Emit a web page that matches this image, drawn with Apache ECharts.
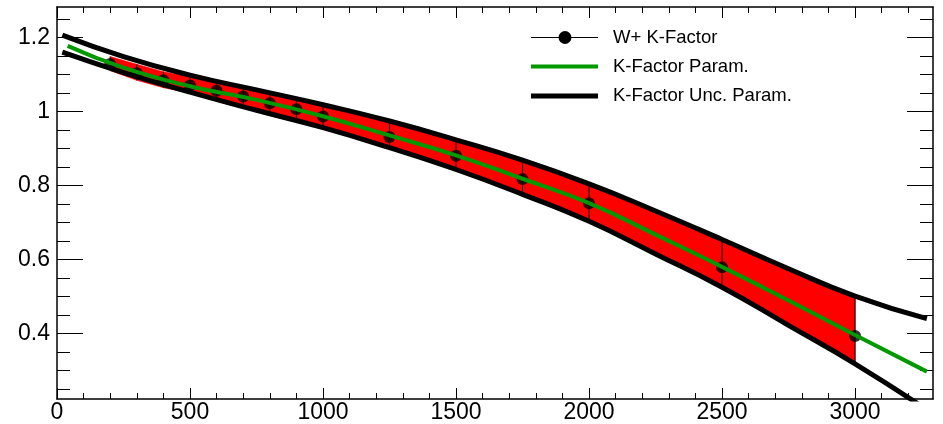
<!DOCTYPE html>
<html>
<head>
<meta charset="utf-8">
<script src="https://cdn.jsdelivr.net/npm/echarts@6/dist/echarts.min.js"></script>
<style>
html, body { margin: 0; padding: 0; background: #fff; }
#chart { width: 943px; height: 424px; }
</style>
</head>
<body>
<div id="chart"></div>
<script>
// W+ K-factor measurements with asymmetric uncertainties
const kMass = [200, 300, 400, 500, 600, 700, 800, 900, 1000, 1250, 1500, 1750, 2000, 2500, 3000];
const kFactor = [1.128, 1.103, 1.084, 1.070, 1.056, 1.040, 1.022, 1.006, 0.986, 0.931, 0.880, 0.817, 0.752, 0.579, 0.393];
const kErrUp = [0.020, 0.024, 0.023, 0.024, 0.025, 0.026, 0.027, 0.026, 0.030, 0.042, 0.042, 0.050, 0.052, 0.075, 0.107];
const kErrDown = [0.018, 0.019, 0.020, 0.020, 0.022, 0.024, 0.025, 0.027, 0.029, 0.030, 0.038, 0.042, 0.049, 0.053, 0.073];

// K-factor parametrisation, sampled along the mass axis
const paramMass = [40, 250, 500, 750, 1000, 1250, 1500, 1750, 2000, 2250, 2500, 2750, 3000, 3270];
const paramValue = [1.177, 1.118, 1.068, 1.031, 0.987, 0.935, 0.881, 0.818, 0.752, 0.667, 0.580, 0.489, 0.396, 0.297];

// Upper and lower edges of the parametrised uncertainty
const uncMass = [20, 250, 500, 750, 1000, 1250, 1500, 1750, 2000, 2250, 2500, 2750, 3000, 3270];
const uncUpper = [1.206, 1.148, 1.098, 1.058, 1.018, 0.974, 0.923, 0.868, 0.804, 0.731, 0.654, 0.575, 0.501, 0.440];
const uncLower = [1.160, 1.105, 1.052, 1.003, 0.956, 0.902, 0.843, 0.776, 0.703, 0.615, 0.525, 0.422, 0.318, 0.194];

// Axis ranges and tick positions
const xRange = [0, 3293];
const yRange = [0.223, 1.282];
const xTickValues = [0, 500, 1000, 1500, 2000, 2500, 3000];
const yTickValues = [0.4, 0.6, 0.8, 1.0, 1.2];
const xMinorStep = 100;
const yMinorStep = 0.05;

const legendLabels = ['W+ K-Factor', 'K-Factor Param.', 'K-Factor Unc. Param.'];

const FONT = '"Liberation Sans", Arial, Helvetica, sans-serif';
const GREEN = '#009900';

// minor tick positions inside each axis range
function stepsWithin(range, step) {
  const out = [];
  for (let k = Math.ceil(range[0] / step - 1e-9); k * step <= range[1] + 1e-9; k++) {
    out.push(+(k * step).toFixed(6));
  }
  return out;
}
const xMinorValues = stepsWithin(xRange, xMinorStep);
const yMinorValues = stepsWithin(yRange, yMinorStep);

const chart = echarts.init(document.getElementById('chart'), null, { renderer: 'canvas' });

function axisDef(dim, position, ticks, tickLen, withLine, withLabels) {
  const range = dim === 'x' ? xRange : yRange;
  return {
    type: 'value', position: position, min: range[0], max: range[1],
    splitLine: { show: false },
    axisLine: { show: withLine, onZero: false, lineStyle: { color: '#000', width: 1.5 } },
    axisTick: { show: true, inside: true, length: tickLen, customValues: ticks,
      lineStyle: { color: '#000', width: 1 } },
    axisLabel: withLabels ? {
      show: true, customValues: ticks, margin: dim === 'x' ? 2 : 7,
      fontSize: 23, color: '#000', fontFamily: FONT,
      formatter: v => String(+(+v).toFixed(1))
    } : { show: false }
  };
}

const bandSegments = kMass.slice(0, -1).map((m, i) => [
  m, kFactor[i] - kErrDown[i], kFactor[i] + kErrUp[i],
  kMass[i + 1], kFactor[i + 1] - kErrDown[i + 1], kFactor[i + 1] + kErrUp[i + 1]
]);
const errorBars = kMass.map((m, i) => [m, kFactor[i] - kErrDown[i], kFactor[i] + kErrUp[i]]);

const legendRows = [37.5, 66.5, 96];
const legendGraphics = [
  { type: 'line', shape: { x1: 531, y1: legendRows[0], x2: 598, y2: legendRows[0] }, style: { stroke: '#000', lineWidth: 1.2 } },
  { type: 'circle', shape: { cx: 565, cy: legendRows[0], r: 6.5 }, style: { fill: '#000' } },
  { type: 'line', shape: { x1: 531, y1: legendRows[1], x2: 598, y2: legendRows[1] }, style: { stroke: GREEN, lineWidth: 4 } },
  { type: 'line', shape: { x1: 531, y1: legendRows[2], x2: 598, y2: legendRows[2] }, style: { stroke: '#000', lineWidth: 5 } }
];
legendLabels.forEach((t, i) => {
  legendGraphics.push({
    type: 'text', x: 613, y: legendRows[i],
    style: { text: t, fill: '#000', font: '18.5px ' + FONT, verticalAlign: 'middle', align: 'left' }
  });
});

chart.setOption({
  animation: false,
  backgroundColor: '#fff',
  grid: { left: 57, right: 10, top: 7, bottom: 24, containLabel: false },
  xAxis: [
    axisDef('x', 'bottom', xTickValues, 11, true, true),
    axisDef('x', 'bottom', xMinorValues, 6, false, false),
    axisDef('x', 'top', xTickValues, 11, true, false),
    axisDef('x', 'top', xMinorValues, 6, false, false)
  ],
  yAxis: [
    axisDef('y', 'left', yTickValues, 26, true, true),
    axisDef('y', 'left', yMinorValues, 13, false, false),
    axisDef('y', 'right', yTickValues, 26, true, false),
    axisDef('y', 'right', yMinorValues, 13, false, false)
  ],
  graphic: legendGraphics,
  series: [
    {
      name: legendLabels[0] + ' band', type: 'custom', z: 1, silent: true,
      data: bandSegments, encode: { x: [0, 3], y: [1, 2, 4, 5] },
      renderItem: (params, api) => {
        const a = api.coord([api.value(0), api.value(2)]);
        const b = api.coord([api.value(3), api.value(5)]);
        const c = api.coord([api.value(3), api.value(4)]);
        const d = api.coord([api.value(0), api.value(1)]);
        return { type: 'polygon', shape: { points: [a, b, c, d] }, style: { fill: '#ff0000', stroke: '#ff0000', lineWidth: 0.6 } };
      }
    },
    {
      name: legendLabels[0] + ' errors', type: 'custom', z: 2, silent: true,
      data: errorBars, encode: { x: 0, y: [1, 2] },
      renderItem: (params, api) => {
        const lo = api.coord([api.value(0), api.value(1)]);
        const hi = api.coord([api.value(0), api.value(2)]);
        return { type: 'line', shape: { x1: lo[0], y1: lo[1], x2: hi[0], y2: hi[1] }, style: { stroke: '#000', lineWidth: 1 } };
      }
    },
    {
      name: legendLabels[0], type: 'scatter', z: 3, symbol: 'circle', symbolSize: 12,
      itemStyle: { color: '#000' },
      data: kMass.map((m, i) => [m, kFactor[i]])
    },
    {
      name: legendLabels[2], type: 'line', z: 4, smooth: true, showSymbol: false, symbol: 'none',
      lineStyle: { color: '#000', width: 5 },
      data: uncMass.map((m, i) => [m, uncUpper[i]])
    },
    {
      name: legendLabels[2] + ' low', type: 'line', z: 4, smooth: true, showSymbol: false, symbol: 'none',
      lineStyle: { color: '#000', width: 5 },
      data: uncMass.map((m, i) => [m, uncLower[i]])
    },
    {
      name: legendLabels[1], type: 'line', z: 5, smooth: true, showSymbol: false, symbol: 'none',
      lineStyle: { color: GREEN, width: 4 },
      data: paramMass.map((m, i) => [m, paramValue[i]])
    }
  ]
});
</script>
</body>
</html>
